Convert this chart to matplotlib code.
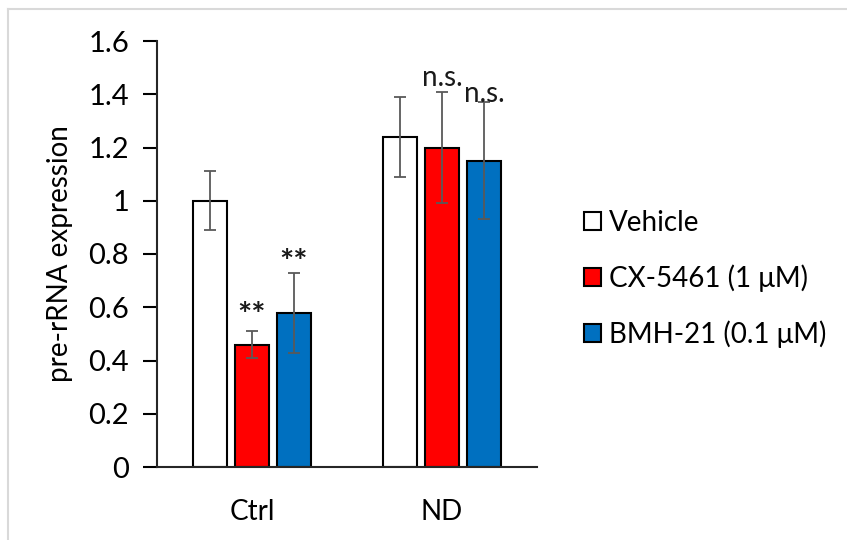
import matplotlib
matplotlib.use("Agg")
import matplotlib.pyplot as plt
from matplotlib.patches import Patch
from matplotlib.lines import Line2D
import numpy as np

plt.rcParams['font.family'] = ['Lato', 'DejaVu Sans']

categories = ["Ctrl", "ND"]
series_names = ["Vehicle", "CX-5461 (1 μM)", "BMH-21 (0.1 μM)"]
values = {
    "Vehicle": [1.00, 1.24],
    "CX-5461 (1 μM)": [0.46, 1.20],
    "BMH-21 (0.1 μM)": [0.58, 1.15],
}
errors = {
    "Vehicle": [0.11, 0.15],
    "CX-5461 (1 μM)": [0.05, 0.21],
    "BMH-21 (0.1 μM)": [0.15, 0.22],
}
annotations = {
    "Vehicle": ["", ""],
    "CX-5461 (1 μM)": ["**", "n.s."],
    "BMH-21 (0.1 μM)": ["**", "n.s."],
}
annot_y = {
    "Vehicle": [0, 0],
    "CX-5461 (1 μM)": [0.565, 1.46],
    "BMH-21 (0.1 μM)": [0.765, 1.40],
}
colors = ["#FFFFFF", "#FF0000", "#0070C0"]
yticks = [0, 0.2, 0.4, 0.6, 0.8, 1, 1.2, 1.4, 1.6]
ytick_labels = ["0", "0.2", "0.4", "0.6", "0.8", "1", "1.2", "1.4", "1.6"]

fig = plt.figure(figsize=(8.47, 5.40), dpi=100)
# light gray frame of the screenshot
fig.add_artist(Line2D([8/847, 8/847], [0, 1 - 9/540], color="#D9D9D9", lw=1.5, transform=fig.transFigure))
fig.add_artist(Line2D([8/847, 1], [1 - 9/540, 1 - 9/540], color="#D9D9D9", lw=1.5, transform=fig.transFigure))

ax = fig.add_axes([157/847, 1 - 467/540, (537 - 157)/847, (467 - 41)/540])

x = np.arange(len(categories))
pitch = 0.221
width = 0.179
for i, (name, col) in enumerate(zip(series_names, colors)):
    pos = x + (i - 1) * pitch
    ax.bar(pos, values[name], width, color=col, edgecolor="black", linewidth=1.5,
           zorder=2, label=name)
    ax.errorbar(pos, values[name], yerr=errors[name], fmt="none", ecolor="#595959",
                elinewidth=1.3, capsize=4.3, capthick=1.3, zorder=3)
    for j in range(len(categories)):
        txt = annotations[name][j]
        if txt:
            if txt == "**":
                ax.text(pos[j], annot_y[name][j], txt, ha="center", va="center",
                        fontsize=24, color="#1a1a1a", zorder=4, fontweight="bold")
            else:
                ax.text(pos[j], annot_y[name][j], txt, ha="center", va="center",
                        fontsize=20, color="#1a1a1a", zorder=4)

ax.set_xlim(-0.5, 1.5)
ax.set_ylim(0, 1.6)
ax.set_yticks(yticks)
ax.set_yticklabels(ytick_labels)
ax.set_xticks(x)
ax.set_xticklabels(categories)
ax.tick_params(axis="y", direction="out", length=10, width=1.5, labelsize=21, pad=10,
               colors="black")
ax.tick_params(axis="x", length=0, labelsize=20, pad=23)
for s in ["top", "right"]:
    ax.spines[s].set_visible(False)
ax.spines["left"].set_linewidth(1.5)
ax.spines["bottom"].set_linewidth(1.5)
ax.spines["bottom"].set_color("#262626")
ax.spines["left"].set_color("#262626")

ax.set_ylabel("pre-rRNA expression", fontsize=20)
ax.yaxis.set_label_coords(-0.222, 0.5)

handles = [Patch(facecolor=c, edgecolor="black", linewidth=1.5) for c in colors]
fig.legend(handles, series_names, loc="center left", bbox_to_anchor=(573/847, 1 - 279/540),
           frameon=False, fontsize=20, handlelength=0.6, handleheight=0.6,
           handletextpad=0.3, labelspacing=1.02, borderaxespad=0)

fig.savefig("out.png", dpi=100)
